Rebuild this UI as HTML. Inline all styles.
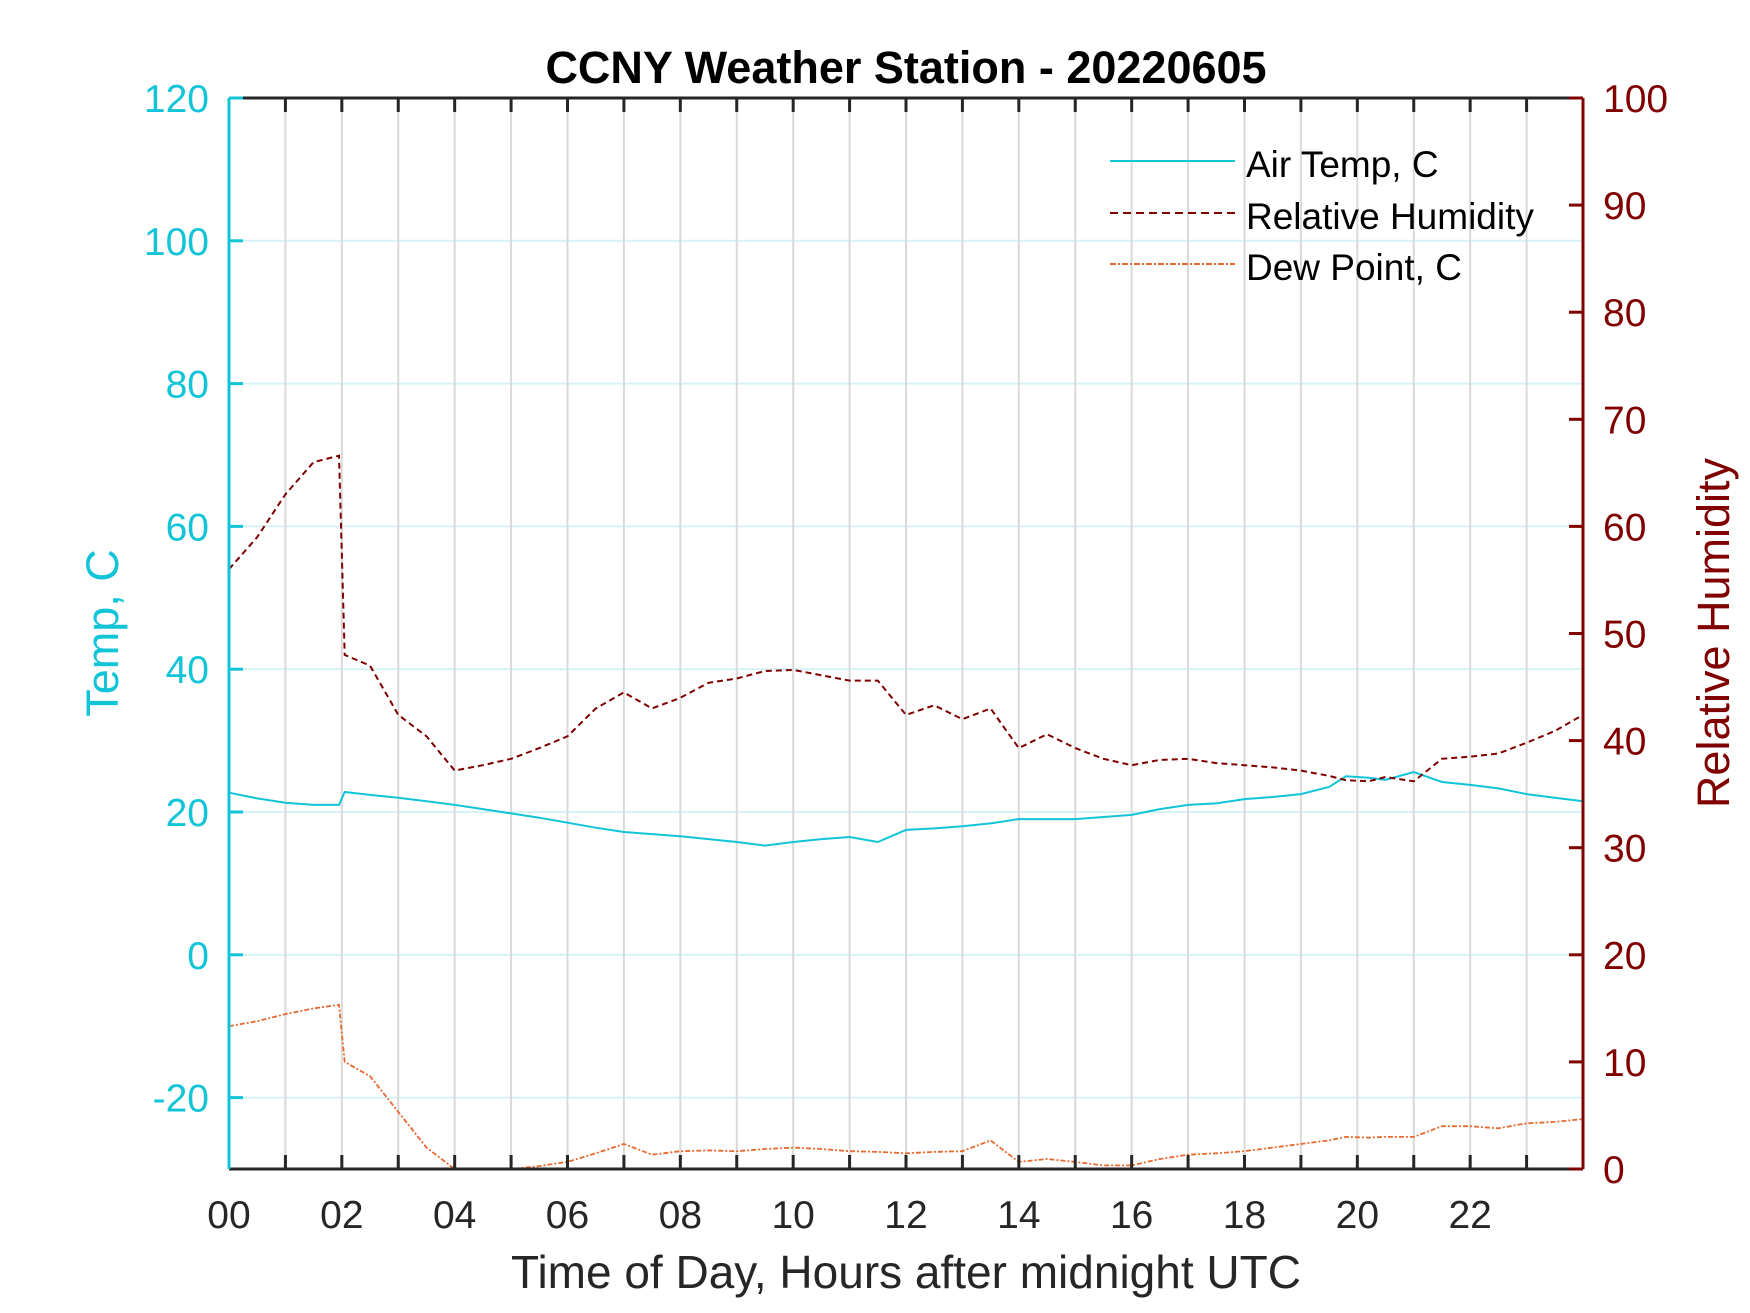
<!DOCTYPE html>
<html><head><meta charset="utf-8"><style>
body{margin:0;background:#fff}
svg{display:block;font-family:"Liberation Sans",Arial,sans-serif}
</style></head><body>
<svg id="chart" width="1750" height="1313" viewBox="0 0 1750 1313">
<rect width="1750" height="1313" fill="#fff"/>
<g id="grid"></g>
<g id="series"></g>
<g id="axes"></g>
<text x="906" y="83" text-anchor="middle" font-size="45" font-weight="bold" fill="#000">CCNY Weather Station - 20220605</text>
<text x="906" y="1288" text-anchor="middle" font-size="46" fill="#262626">Time of Day, Hours after midnight UTC</text>
<text transform="translate(118,633) rotate(-90)" text-anchor="middle" font-size="45" fill="#12c4d8">Temp, C</text>
<text transform="translate(1729,633) rotate(-90)" text-anchor="middle" font-size="45" fill="#800000">Relative Humidity</text>
<g>
<line x1="1110" y1="161" x2="1235" y2="161" stroke="#12c4d8" stroke-width="2"/>
<text x="1246" y="177" font-size="37" fill="#000">Air Temp, C</text>
<line x1="1110" y1="213" x2="1235" y2="213" stroke="#800000" stroke-width="2" stroke-dasharray="8,5"/>
<text x="1246" y="229" font-size="37" fill="#000">Relative Humidity</text>
<line x1="1110" y1="264" x2="1235" y2="264" stroke="#e8692f" stroke-width="2" stroke-dasharray="6,2,2,2"/>
<text x="1246" y="280" font-size="37" fill="#000">Dew Point, C</text>
</g>
</svg>
<script>
const hours = [0,0.5,1,1.5,1.95,2.05,2.5,3,3.5,4,4.5,5,5.5,6,6.5,7,7.5,8,8.5,9,9.5,10,10.5,11,11.5,12,12.5,13,13.5,14,14.5,15,15.5,16,16.5,17,17.5,18,18.5,19,19.5,19.8,20.2,20.5,21,21.5,22,22.5,23,23.5,24];
const airTemp = [22.7,21.9,21.3,21.0,21.0,22.8,22.4,22.0,21.5,21.0,20.4,19.8,19.2,18.5,17.8,17.2,16.9,16.6,16.2,15.8,15.3,15.8,16.2,16.5,15.8,17.5,17.7,18.0,18.4,19.0,19.0,19.0,19.3,19.6,20.4,21.0,21.2,21.8,22.1,22.5,23.5,25.0,24.8,24.5,25.6,24.2,23.8,23.3,22.5,22.0,21.5];
const humidity = [56,59,63,66,66.6,48,47,42.4,40.4,37.2,37.7,38.3,39.3,40.4,43,44.5,43,44,45.4,45.8,46.5,46.6,46.1,45.6,45.6,42.4,43.3,42,43,39.3,40.6,39.3,38.3,37.7,38.2,38.3,37.9,37.7,37.5,37.2,36.7,36.3,36.2,36.6,36.2,38.3,38.5,38.8,39.8,40.9,42.4];
const dewPoint = [-10,-9.3,-8.3,-7.5,-7,-15,-17,-22,-27,-30,-30,-30,-29.6,-29,-27.8,-26.5,-28,-27.5,-27.4,-27.5,-27.2,-27,-27.2,-27.5,-27.6,-27.8,-27.6,-27.5,-26,-29,-28.6,-29,-29.5,-29.5,-28.6,-28,-27.8,-27.5,-27,-26.5,-26,-25.5,-25.6,-25.5,-25.5,-24,-24,-24.3,-23.6,-23.4,-23];
const xTicks = ["00","02","04","06","08","10","12","14","16","18","20","22"];
const leftTicks = [-20,0,20,40,60,80,100,120];
const rightTicks = [0,10,20,30,40,50,60,70,80,90,100];

const L=229,R=1583,T=98,B=1169;
const xs = h => L + (R-L)*h/24;
const yT = v => B - (B-T)*(v+30)/150;
const yH = v => B - (B-T)*v/100;
const NS="http://www.w3.org/2000/svg";
function mk(tag, parent, attrs){const e=document.createElementNS(NS,tag);for(const k in attrs)e.setAttribute(k,attrs[k]);parent.appendChild(e);return e;}
const grid=document.getElementById('grid'), ser=document.getElementById('series'), axes=document.getElementById('axes');

for(const v of leftTicks){ if(v===120) continue;
  const l=mk('line',grid,{x1:L,x2:R,y1:yT(v),y2:yT(v),stroke:'#d6f2f6','stroke-width':2});
  
  
}
for(let h=1;h<24;h++){
  const l=mk('line',grid,{x1:xs(h),x2:xs(h),y1:T,y2:B,stroke:'#d9d9d9','stroke-width':2});
  
  
}
function path(vals, yf, attrs, name){
  const d=hours.map((h,i)=>(i?'L':'M')+xs(h).toFixed(1)+','+yf(vals[i]).toFixed(1)).join(' ');
  const p=mk('path',ser,Object.assign({d:d,fill:'none'},attrs));
  
  
}
path(airTemp,yT,{stroke:'#12c4d8','stroke-width':2},'air-temp-line');
path(humidity,yH,{stroke:'#800000','stroke-width':2,'stroke-dasharray':'6,4'},'humidity-line');
path(dewPoint,yT,{stroke:'#e8692f','stroke-width':1.8,'stroke-dasharray':'5,2,2,2'},'dew-point-line');

let a=mk('line',axes,{x1:L,x2:R,y1:T,y2:T,stroke:'#262626','stroke-width':3});
 
a=mk('line',axes,{x1:L,x2:R,y1:B,y2:B,stroke:'#262626','stroke-width':3});
 
a=mk('line',axes,{x1:L,x2:L,y1:T,y2:B,stroke:'#12c4d8','stroke-width':3});
 
a=mk('line',axes,{x1:R,x2:R,y1:T,y2:B,stroke:'#800000','stroke-width':3});
 
for(let h=1;h<24;h++){
  let t=mk('line',axes,{x1:xs(h),x2:xs(h),y1:T,y2:T+14,stroke:'#262626','stroke-width':3});
   
  t=mk('line',axes,{x1:xs(h),x2:xs(h),y1:B,y2:B-14,stroke:'#262626','stroke-width':3});
   
}
xTicks.forEach((s,i)=>{
  const t=mk('text',axes,{x:xs(i*2),y:1228,'text-anchor':'middle','font-size':39,fill:'#262626'});
  t.textContent=s;
   
});
leftTicks.forEach(v=>{
  const k=mk('line',axes,{x1:L,x2:L+14,y1:yT(v),y2:yT(v),stroke:'#12c4d8','stroke-width':3});
   
  const t=mk('text',axes,{x:209,y:yT(v)+14,'text-anchor':'end','font-size':39,fill:'#12c4d8'});
  t.textContent=v;
   
});
rightTicks.forEach(v=>{
  const k=mk('line',axes,{x1:R-14,x2:R,y1:yH(v),y2:yH(v),stroke:'#800000','stroke-width':3});
   
  const t=mk('text',axes,{x:1603,y:yH(v)+14,'text-anchor':'start','font-size':39,fill:'#800000'});
  t.textContent=v;
   
});
</script>
</body></html>
